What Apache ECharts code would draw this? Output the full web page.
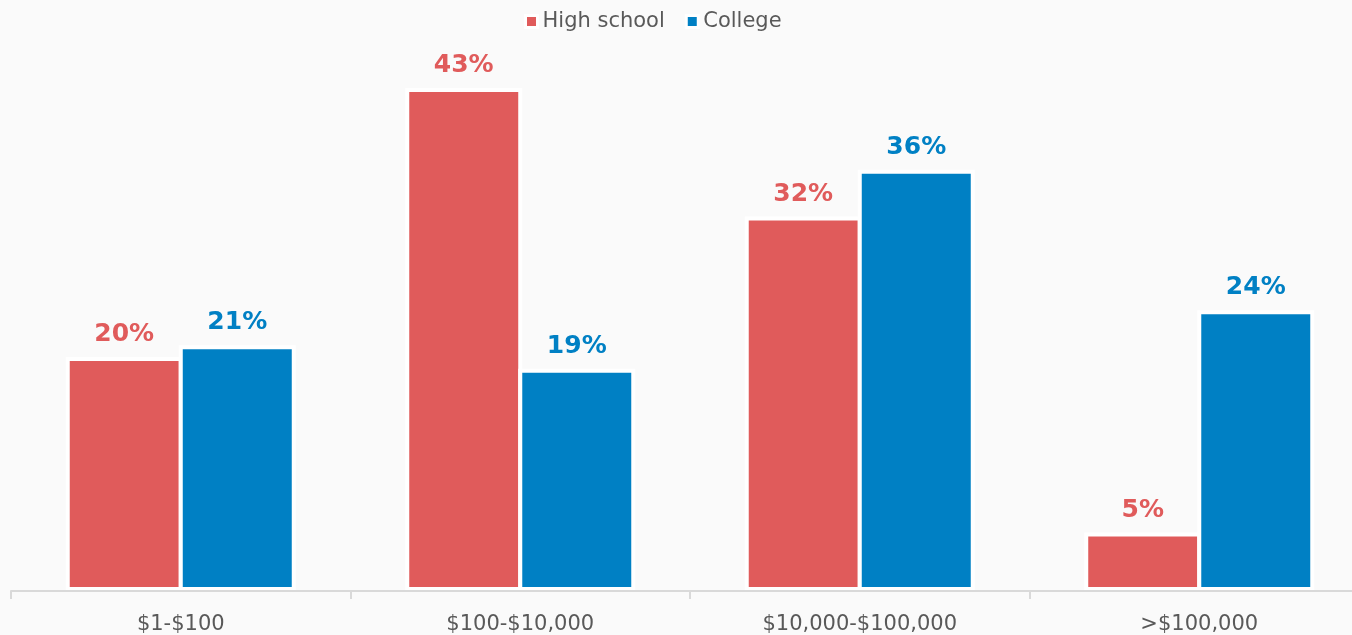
<!DOCTYPE html>
<html>
<head>
<meta charset="utf-8">
<title>Spending by education</title>
<script src="https://cdn.jsdelivr.net/npm/echarts@6/dist/echarts.min.js"></script>
<style>
  html, body { margin: 0; padding: 0; background: #fafafa; }
  #chart { width: 1352px; height: 635px; }
</style>
</head>
<body>
<div id="chart"></div>
<script>
const categories = ['$1-$100', '$100-$10,000', '$10,000-$100,000', '>$100,000'];
const highSchool = [20, 43, 32, 5];
const college = [21, 19, 36, 24];

const RED = '#e05b5b';
const BLUE = '#0080c4';
const FONT = '"DejaVu Sans", Verdana, sans-serif';

function barSeries(name, data, color) {
  return {
    name: name,
    type: 'bar',
    data: data,
    barWidth: 117,
    barGap: '-3.4%',
    itemStyle: { color: color, borderColor: '#ffffff', borderWidth: 4 },
    label: {
      show: true,
      position: 'top',
      distance: 10,
      formatter: '{c}%',
      color: color,
      fontFamily: FONT,
      fontWeight: 'bold',
      fontSize: 25
    }
  };
}

const chart = echarts.init(document.getElementById('chart'), null, { renderer: 'canvas' });
chart.setOption({
  backgroundColor: '#fafafa',
  animation: false,
  legend: {
    top: 6,
    left: 519,
    itemWidth: 12,
    itemHeight: 12,
    itemGap: 20,
    icon: 'rect',
    itemStyle: { borderColor: '#ffffff', borderWidth: 3 },
    textStyle: { fontFamily: FONT, fontSize: 21, color: '#595959' },
    data: ['High school', 'College']
  },
  grid: {
    left: 11,
    width: 1358,
    top: 6,
    bottom: 44,
    containLabel: false,
    outerBoundsMode: 'none'
  },
  xAxis: {
    type: 'category',
    data: categories,
    z: 10,
    axisLine: { lineStyle: { color: '#d9d9d9', width: 2 } },
    axisTick: { show: true, length: 8, lineStyle: { color: '#d9d9d9', width: 2 } },
    axisLabel: { margin: 23, color: '#595959', fontFamily: FONT, fontSize: 21 }
  },
  yAxis: {
    type: 'value',
    min: 0,
    max: 50,
    show: false,
    splitLine: { show: false }
  },
  series: [
    barSeries('High school', highSchool, RED),
    barSeries('College', college, BLUE)
  ]
});
</script>
</body>
</html>
